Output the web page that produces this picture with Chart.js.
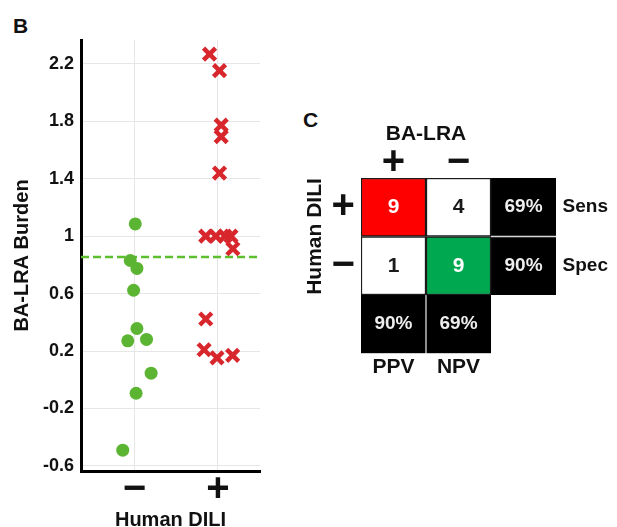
<!DOCTYPE html>
<html>
<head>
<meta charset="utf-8">
<script src="https://cdn.jsdelivr.net/npm/chart.js@4/dist/chart.umd.min.js"></script>
<style>
  html, body { margin: 0; padding: 0; background: #fff; }
  #page { position: relative; width: 617px; height: 527px; overflow: hidden; font-family: 'Liberation Sans', Arial, sans-serif; }
  #page canvas { position: absolute; }
  .panel { position: absolute; font-weight: bold; font-size: 21px; color: #111; line-height: 1; }
</style>
</head>
<body>
<div id="page">
  <div class="panel" style="left:13px; top:15px;">B</div>
  <div class="panel" style="left:303px; top:109px;">C</div>
  <canvas id="chartB" width="290" height="527" style="left:0; top:0;"></canvas>
  <canvas id="chartC" width="327" height="290" style="left:290px; top:100px;"></canvas>
</div>
<script>
(function () {
    'use strict';

    // ---- Panel B : BA-LRA burden by human DILI class ----
    // DILI negative (green dots): x jitter around category 1
    var negX = [1.01, 0.95, 1.03, 0.99, 1.03, 0.92, 1.145, 1.20, 1.02, 0.86];
    var negY = [1.085, 0.83, 0.775, 0.623, 0.357, 0.271, 0.281, 0.046, -0.094, -0.49];
    // DILI positive (red crosses): x jitter around category 2
    var posX = [1.90, 2.02, 2.04, 2.04, 2.02, 1.855, 1.976, 2.084, 2.157, 2.18, 1.855, 1.835, 1.99, 2.177];
    var posY = [2.267, 2.152, 1.772, 1.692, 1.439, 1.0, 1.0, 1.0, 1.0, 0.912, 0.423, 0.209, 0.152, 0.170];
    var cutoff = 0.855;

    var xTickValues = [1, 2];
    var xTickLabels = ['\u2212', '+'];
    var yTickValues = [-0.6, -0.2, 0.2, 0.6, 1, 1.4, 1.8, 2.2];

    // ---- Panel C : contingency table ----
    var colLabels = ['+', '\u2212'];          // BA-LRA
    var rowLabels = ['+', '\u2212'];          // Human DILI
    var cellCounts = [[9, 4], [1, 9]];
    var rowRates = ['69%', '90%'];
    var rowRateNames = ['Sens', 'Spec'];
    var colRates = ['90%', '69%'];
    var colRateNames = ['PPV', 'NPV'];

    var FONT = "'Liberation Sans', Arial, sans-serif";
    Chart.defaults.font.family = FONT;
    Chart.defaults.color = '#111';

    var xMin = 0.36, xMax = 2.505, yMin = -0.635, yMax = 2.365;

    function pairs(xs, ys) {
        return xs.map(function (x, i) { return { x: x, y: ys[i] }; });
    }

    var gridGris = '#e6e6e6';

    new Chart(document.getElementById('chartB'), {
        type: 'scatter',
        data: {
            datasets: [{
                type: 'line',
                data: [{ x: xMin, y: cutoff }, { x: xMax, y: cutoff }],
                borderColor: '#5cbf2e',
                borderWidth: 2.5,
                borderDash: [8, 4],
                pointRadius: 0,
                order: 3
            }, {
                data: pairs(negX, negY),
                pointStyle: 'circle',
                pointRadius: 6.5,
                backgroundColor: '#5cb532',
                borderWidth: 0,
                order: 1
            }, {
                data: pairs(posX, posY),
                pointStyle: 'crossRot',
                pointRadius: 8.5,
                borderColor: '#d8262d',
                borderWidth: 4.5,
                order: 2
            }]
        },
        options: {
            responsive: false,
            animation: false,
            layout: { padding: { left: 8, top: 40, right: 30, bottom: -2 } },
            plugins: { legend: { display: false }, tooltip: { enabled: false } },
            scales: {
                x: {
                    type: 'linear',
                    min: xMin,
                    max: xMax,
                    afterBuildTicks: function (axis) {
                        axis.ticks = xTickValues.map(function (v) { return { value: v }; });
                    },
                    grid: { color: gridGris, drawTicks: false },
                    border: { color: '#000', width: 3 },
                    ticks: {
                        padding: 10,
                        color: '#111',
                        font: { size: 40, weight: 'bold', lineHeight: 0.45 },
                        callback: function (v, i) { return xTickLabels[i]; }
                    },
                    title: {
                        display: true,
                        text: 'Human DILI',
                        color: '#111',
                        font: { size: 20, weight: 'bold', lineHeight: 0.9 },
                        padding: { top: 2, bottom: 0 }
                    }
                },
                y: {
                    min: yMin,
                    max: yMax,
                    afterBuildTicks: function (axis) {
                        axis.ticks = yTickValues.map(function (v) { return { value: v }; });
                    },
                    grid: { color: gridGris, drawTicks: false },
                    border: { color: '#000', width: 3 },
                    ticks: {
                        padding: 7,
                        color: '#111',
                        font: { size: 18, weight: 'bold' },
                        callback: function (v) { return String(Math.round(v * 10) / 10); }
                    },
                    title: {
                        display: true,
                        text: 'BA-LRA Burden',
                        color: '#111',
                        font: { size: 20, weight: 'bold' },
                        padding: { top: 2, bottom: 2 }
                    }
                }
            }
        }
    });

    // ---- Panel C ----
    var RED = '#fe0000', GREEN = '#00a84f', WHITE = '#ffffff', BLACK = '#000000';
    var DARK = '#1a1a1a', LIGHT = '#d0d0d0';

    // one dataset per table row, floating bars [lo, hi] on a 0..3 scale
    function rangee(lo, hi, n) {
        var out = [];
        for (var i = 0; i < 3; i++) { out.push(i < n ? [lo, hi] : null); }
        return out;
    }

    var datasets = [{
        data: rangee(2, 3, 3),
        cellText: [cellCounts[0][0], cellCounts[0][1], rowRates[0]],
        cellInk: ['#ffffff', DARK, '#eeeeee'],
        backgroundColor: [RED, WHITE, BLACK],
        borderColor: [DARK, DARK, LIGHT],
        borderWidth: [1.5, 1.5, { top: 0, left: 0, right: 0, bottom: 1 }]
    }, {
        data: rangee(1, 2, 3),
        cellText: [cellCounts[1][0], cellCounts[1][1], rowRates[1]],
        cellInk: [DARK, '#ffffff', '#eeeeee'],
        backgroundColor: [WHITE, GREEN, BLACK],
        borderColor: [DARK, DARK, LIGHT],
        borderWidth: [1.5, 1.5, { top: 1, left: 0, right: 0, bottom: 0 }]
    }, {
        data: rangee(0, 1, 2),
        cellText: [colRates[0], colRates[1], null],
        cellInk: ['#eeeeee', '#eeeeee', null],
        backgroundColor: [BLACK, BLACK, BLACK],
        borderColor: [LIGHT, LIGHT, LIGHT],
        borderWidth: [{ top: 0, left: 0, right: 1, bottom: 0 }, { top: 0, left: 1, right: 0, bottom: 0 }, 0]
    }];

    // Texte dans les cases + titres "BA-LRA" / "Human DILI"
    var textePlugin = {
        id: 'texteCases',
        afterDatasetsDraw: function (chart) {
            var ctx = chart.ctx;
            ctx.save();
            ctx.textAlign = 'center';
            ctx.textBaseline = 'middle';
            chart.data.datasets.forEach(function (ds, i) {
                chart.getDatasetMeta(i).data.forEach(function (bar, j) {
                    var t = ds.cellText[j];
                    if (t === null || t === undefined) { return; }
                    var p = bar.getProps(['x', 'y', 'base'], true);
                    ctx.font = 'bold ' + (typeof t === 'number' ? 21 : 19) + 'px ' + FONT;
                    ctx.fillStyle = ds.cellInk[j];
                    ctx.fillText(String(t), p.x, (p.y + p.base) / 2);
                });
            });

            var xs = chart.scales.x, ys = chart.scales.y, area = chart.chartArea;
            ctx.fillStyle = '#111';
            ctx.font = 'bold 21px ' + FONT;
            ctx.fillText('BA-LRA', (xs.getPixelForValue(0) + xs.getPixelForValue(1)) / 2, area.top - 44);
            ctx.translate(area.left - 46, (ys.getPixelForValue(3) + ys.getPixelForValue(1)) / 2);
            ctx.rotate(-Math.PI / 2);
            ctx.fillText('Human DILI', 0, 0);
            ctx.restore();
        }
    };

    var rowTicks = function (axis) { axis.ticks = [{ value: 2.5 }, { value: 1.5 }]; };

    new Chart(document.getElementById('chartC'), {
        type: 'bar',
        data: { labels: colLabels.concat(['']), datasets: datasets },
        options: {
            responsive: false,
            animation: false,
            grouped: false,
            barPercentage: 1,
            categoryPercentage: 1,
            borderSkipped: false,
            layout: { padding: { left: 35.6, top: 48, right: 2.5, bottom: 8.5 } },
            plugins: { legend: { display: false }, tooltip: { enabled: false } },
            scales: {
                x: {
                    type: 'category',
                    position: 'top',
                    offset: true,
                    grid: { display: false, drawTicks: false },
                    border: { display: false },
                    ticks: { padding: 0, color: '#111', font: { size: 40, weight: 'bold', lineHeight: 0.75 } }
                },
                xb: {
                    type: 'category',
                    labels: colRateNames.concat(['']),
                    position: 'bottom',
                    offset: true,
                    grid: { display: false, drawTicks: false },
                    border: { display: false },
                    ticks: { padding: 3.5, color: '#111', font: { size: 21, weight: 'bold', lineHeight: 1 } }
                },
                y: {
                    type: 'linear',
                    position: 'left',
                    min: 0,
                    max: 3,
                    afterBuildTicks: rowTicks,
                    grid: { display: false, drawTicks: false },
                    border: { display: false },
                    ticks: {
                        padding: 6,
                        color: '#111',
                        font: { size: 40, weight: 'bold', lineHeight: 0.75 },
                        callback: function (v, i) { return rowLabels[i]; }
                    }
                },
                y2: {
                    type: 'linear',
                    position: 'right',
                    min: 0,
                    max: 3,
                    afterBuildTicks: rowTicks,
                    grid: { display: false, drawTicks: false },
                    border: { display: false },
                    ticks: {
                        padding: 6.5,
                        color: '#111',
                        font: { size: 19, weight: 'bold' },
                        callback: function (v, i) { return rowRateNames[i]; }
                    }
                }
            }
        },
        plugins: [textePlugin]
    });
})();
</script>
</body>
</html>
